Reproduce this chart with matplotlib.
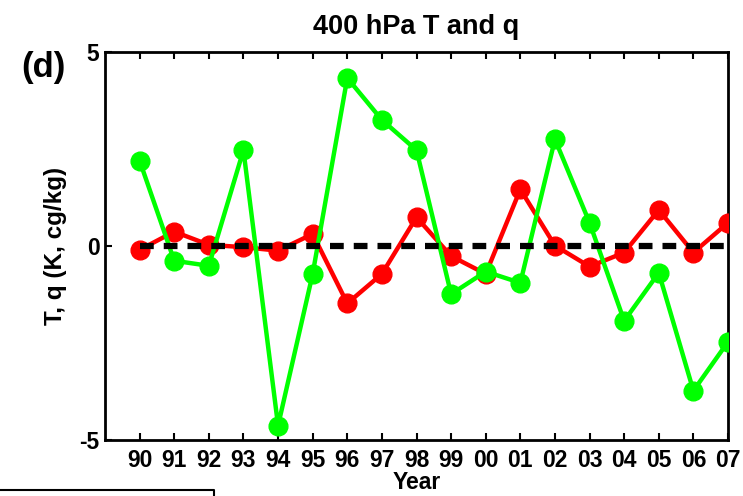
import matplotlib
matplotlib.use("Agg")
import matplotlib.pyplot as plt
from matplotlib.lines import Line2D
import numpy as np

plt.rcParams['font.family'] = ['Liberation Sans', 'DejaVu Sans']
plt.rcParams['font.weight'] = 'bold'
plt.rcParams['axes.unicode_minus'] = False

years = np.arange(90, 108)
year_labels = ["90", "91", "92", "93", "94", "95", "96", "97", "98", "99",
               "00", "01", "02", "03", "04", "05", "06", "07"]
T = [-0.1, 0.37, 0.03, -0.03, -0.12, 0.31, -1.48, -0.72, 0.74,
     -0.26, -0.72, 1.46, 0.01, -0.53, -0.17, 0.93, -0.17, 0.6]
q = [2.2, -0.38, -0.51, 2.47, -4.63, -0.72, 4.33, 3.25, 2.47,
     -1.24, -0.66, -0.95, 2.75, 0.6, -1.93, -0.69, -3.73, -2.47]

W, H = 743, 496
fig = plt.figure(figsize=(W / 100, H / 100), dpi=100)
ax = fig.add_axes([105 / W, 1 - 440 / H, (728 - 105) / W, (440 - 52) / H])

ax.plot(years, T, color="#ff0000", lw=3.2, marker="o", ms=13.5, zorder=3)
ax.plot(years, q, color="#00ff00", lw=3.2, marker="o", ms=13.5, zorder=3)
ax.plot([years[0], years[-1]], [0, 0], color="black", lw=4.5,
        ls=(0, (2.2, 1.6)), zorder=4)

ax.set_xlim(89, 107)
ax.set_ylim(-5, 5)
ax.set_xticks(years)
ax.set_xticklabels(year_labels)
ax.set_yticks([-5, 0, 5])
ax.tick_params(direction="in", top=True, right=False, length=5, width=1.5,
               labelsize=16.5)
ax.tick_params(axis="x", pad=6.5)
ax.tick_params(axis="y", pad=4)
for s in ax.spines.values():
    s.set_linewidth(2)

ax.set_title("400 hPa T and q", fontsize=19.5, fontweight="bold", pad=13)
ax.set_xlabel("Year", fontsize=16.5, fontweight="bold", labelpad=-1)
ax.set_ylabel("T, q (K, cg/kg)", fontsize=17.5, fontweight="bold", labelpad=9)
fig.text(43 / W, 1 - 68 / H, "(d)", fontsize=25, fontweight="bold",
         ha="center", va="center")

# edge of the panel below
fig.add_artist(Line2D([0, 214 / W, 214 / W], [1 - 490 / H, 1 - 490 / H, 0],
                      color="black", lw=1.5, transform=fig.transFigure))

fig.savefig("out.png", dpi=100)
